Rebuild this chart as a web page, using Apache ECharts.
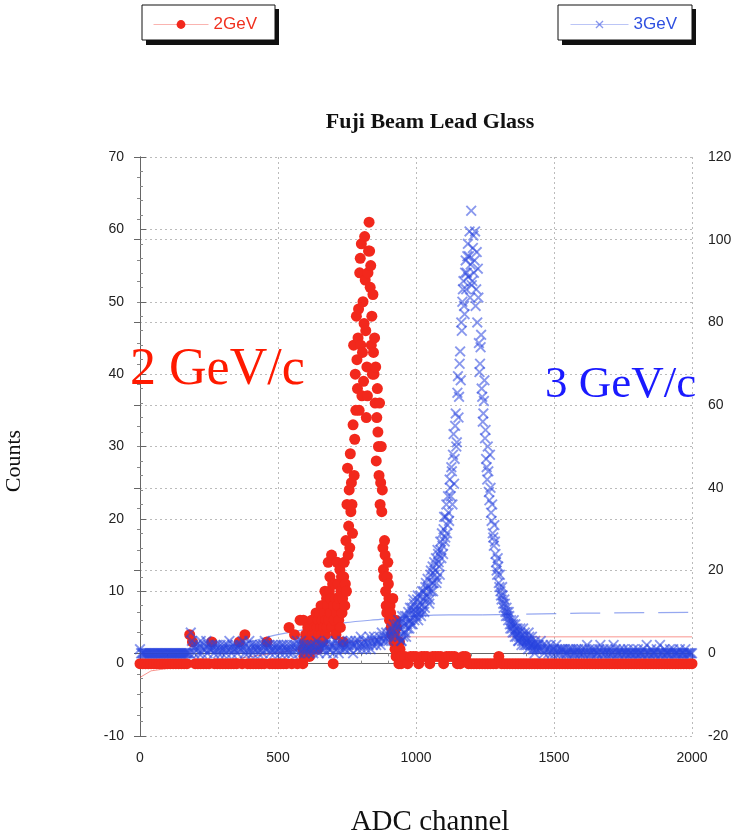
<!DOCTYPE html>
<html>
<head>
<meta charset="utf-8">
<script src="https://cdn.jsdelivr.net/npm/echarts@6/dist/echarts.min.js"></script>
<style>
html,body{margin:0;padding:0;background:#fff;}
#chart{width:741px;height:836px;}
</style>
</head>
<body>
<div id="chart"></div>
<script>
// ---------------- DATA ----------------
const xTicks = [0, 500, 1000, 1500, 2000];
const yLeftTicks = [-10, 0, 10, 20, 30, 40, 50, 60, 70];
const yRightTicks = [-20, 0, 20, 40, 60, 80, 100, 120];

// 2GeV counts (left axis) — low region, channels 0..580, one value per 10 channels
const red2LowStart = 0, red2LowStep = 10;
const red2Low = [
  0,0,0,0,0,0,0,0,0,0, 0,0,0,0,0,0,0,0,
  4,3,0,0,0,0,0,0,3,0, 0,0,0,0,0,0,0,0,
  3,0,4,0,0,0,0,0,0,0, 3,0,0,0,0,0,0,0,
  5,0,4,0,6,0
];
// 2GeV peak region, [channel, counts]
const red2Peak = [
  [590,2],[592,6],[594,1],[596,3],[598,2],[600,4],[602,1],[604,3],[606,2],[608,5],
  [610,2],[612,4],[614,1],[616,3],[618,5],[620,2],[622,6],[624,3],[626,4],[628,6],
  [630,2],[632,5],[634,3],[636,4],[638,7],[640,3],[642,5],[644,2],[646,6],[648,4],
  [650,7],[652,3],[654,5],[656,8],[658,4],[660,6],[662,3],[664,8],[666,5],[668,7],
  [670,10],[672,4],[674,6],[676,9],[678,5],[680,8],[682,14],[684,6],[686,10],[688,12],
  [690,7],[692,9],[694,15],[696,5],[698,11],[700,0],[702,8],[704,6],[706,11],[708,9],
  [710,4],[712,7],[714,14],[716,8],[718,11],[720,6],[722,9],[724,13],[726,5],[728,10],
  [730,12],[732,7],[734,9],[736,3],[738,12],[740,14],[742,8],[744,11],[746,17],[748,10],
  [750,22],[752,27],[754,15],[756,19],[758,24],[760,16],[762,29],[764,21],[766,25],[768,22],
  [770,18],[772,33],[774,44],[776,26],[778,31],[780,40],[782,35],[784,48],[786,42],[788,38],
  [790,45],[792,49],[794,35],[796,54],[798,56],[800,44],[802,58],[804,37],[806,43],[808,50],
  [810,39],[812,47],[814,59],[816,53],[818,46],[820,34],[822,41],[824,37],[826,54],[828,57],
  [830,61],[832,57],[834,52],[836,55],[838,44],[840,48],[842,40],[844,51],[846,43],[848,40],
  [850,45],[852,36],[854,41],[856,28],[858,34],[860,38],[862,32],[864,30],[866,26],[868,36],
  [870,22],[872,25],[874,30],[876,21],[878,24],[880,16],[882,13],[884,12],[886,17],[888,15],
  [890,10],[892,8],[894,7],[896,12],[898,14],[900,11],[902,9],[904,6],[906,8],[908,7],
  [910,5],[912,4],[914,6],[916,9],[918,5],[920,3],[922,4],[924,2],[926,6],[928,1],
  [930,5],[932,2],[934,3],[936,1],[938,0],[940,3],[942,2],[944,1],[946,0]
];
// 2GeV high region, channels 950..2000, one value per 10 channels
const red2HighStart = 950, red2HighStep = 10;
const red2High = [
  1,1,0,1,1,1,0,1,1,1, 0,1,1,1,1,0,1,1,1,1, 0,0,1,1,0,
  0,0,0,0,0,0,0,0,0,0,
  1,
  0,0,0,0,0,0,0,0,0,0, 0,0,0,0,0,0,0,0,0,0, 0,0,0,0,0,0,0,0,0,0,
  0,0,0,0,0,0,0,0,0,0, 0,0,0,0,0,0,0,0,0,0, 0,0,0,0,0,0,0,0,0,0,
  0,0,0,0,0,0,0,0,0,0
];

// 3GeV counts (right axis) — channels 0..936, one value per 4 channels
const blue3LowStart = 0, blue3LowStep = 4;
const blue3Low = [
  1,0,0,0,0,0,0,0,0,0, 0,0,0,0,0,0,0,0,0,0, 0,0,0,0,0,0,0,0,0,0,
  0,0,0,0,0,0,0,0,0,0, 0,0,0,0,0,0,
  5,3,2,0,1,2,1,0,2,3,
  0,1,2,1,3,0,2,1,1,2,
  1,0,2,1,2,0,1,2,0,1,
  2,1,0,2,1,3,1,0,2,1,
  1,2,0,1,2,1,2,3,1,0,
  2,1,0,3,1,2,0,1,2,1,
  2,0,1,2,1,0,2,3,1,2,
  1,2,0,1,2,1,0,2,1,2,
  1,0,2,1,2,0,1,2,1,0,
  2,1,0,2,1,2,3,1,0,2,
  3,1,2,0,1,2,1,0,2,1,
  2,0,1,2,3,1,0,2,1,2,
  2,1,2,0,3,1,2,1,2,0,
  2,3,1,2,0,2,1,3,2,1,
  1,2,3,2,1,3,2,0,2,3,
  2,1,3,2,4,1,2,3,2,1,
  3,2,4,1,3,2,4,3,2,3,
  3,4,2,5,3,4,3,5,4,3,
  5,4,6,5,7,4,6,7,8
];
// 3GeV peak region, channels 940..1440, one value per 4 channels
const blue3PeakStart = 940, blue3PeakStep = 4;
const blue3Peak = [
  4,7,3,8,5,9,4,7,10,6, 8,11,7,12,9,10,13,8,11,14,
  10,12,15,11,17,13,16,12,19,15, 21,17,19,23,18,24,21,27,23,26,
  30,27,33,29,38,32,40,45,36,53, 47,58,51,67,62,73,80,85,90,82,
  95,92,99,96,86,107,90,101,95,84, 97,93,75,70,77,62,58,66,54,45,
  50,39,48,34,36,28,31,24,20,23, 17,19,14,16,12,13,10,11,9,10,
  7,8,6,7,5,7,4,6,3,5, 4,3,6,2,4,3,2,5,3,2,
  4,2,1,3,1,2
];
// 3GeV peak region, interleaved channels 942..1438, one value per 4 channels
const blue3PeakBStart = 942, blue3PeakBStep = 4;
const blue3PeakB = [
  6,3,9,4,7,5,9,6,8,11, 7,10,13,8,11,9,14,10,12,9,
  15,13,10,16,14,18,15,13,20,17, 15,22,20,17,25,22,19,25,29,24,
  33,28,36,31,34,42,38,44,48,41, 55,50,63,57,70,66,78,88,84,92,
  88,96,91,102,94,89,98,92,102,88, 80,86,68,74,64,56,61,52,47,42,
  44,37,40,32,29,26,27,22,19,21, 16,15,13,14,11,12,9,10,8,9,
  6,7,5,8,4,6,5,3,4,6, 2,4,3,5,2,3,1,4,2,3,
  1,2,0,2,1
];
// 3GeV tail, channels 1444..2000, one value per 4 channels
const blue3TailStart = 1444, blue3TailStep = 4;
const blue3Tail = [
  2,1,3,1,2,0,1,2,1,0,
  1,2,0,1,1,0,2,1,0,1,
  0,1,1,0,1,0,0,1,0,1,
  0,1,0,0,1,0,1,0,0,1,
  0,0,1,0,2,0,1,0,0,1,
  0,1,0,0,0,1,2,0,0,1,
  0,0,1,0,0,1,0,0,2,0,
  1,0,0,0,1,0,0,1,0,0,
  0,1,0,0,0,0,1,0,0,0,
  1,0,0,0,0,1,0,0,2,0,
  0,0,1,0,0,0,0,1,0,0,
  2,0,0,0,1,0,0,0,0,1,
  0,0,1,0,0,0,0,0,1,0,
  0,0,0,1,0,0,0,0,0,0
];

// thin guide lines
const red2Line = [[0,-1.9],[40,-1.0],[900,3.7],[2000,3.7]];
const blue3LineSolid = [[300,1.5],[400,2.8],[490,4.4],[610,5.9],[745,7.4],[870,8.2],[1000,9.0],[1120,9.3],[1240,9.3]];
const blue3LineDashed = [[1240,9.3],[1600,9.7],[2000,9.9]];

// ---------------- BUILD ----------------
function fromRuns(start, step, arr) { return arr.map((v, i) => [start + i * step, v]); }
const red2Data = fromRuns(red2LowStart, red2LowStep, red2Low)
  .concat(red2Peak)
  .concat(fromRuns(red2HighStart, red2HighStep, red2High));
const blue3Data = fromRuns(blue3LowStart, blue3LowStep, blue3Low)
  .concat(fromRuns(blue3PeakStart, blue3PeakStep, blue3Peak))
  .concat(fromRuns(blue3PeakBStart, blue3PeakBStep, blue3PeakB))
  .concat(fromRuns(blue3TailStart, blue3TailStep, blue3Tail));

const RED = '#f2281c';
const BLUE_X = 'rgba(40,68,222,0.55)';
const XPATH = 'path://M0,1.2L1.2,0L5,3.8L8.8,0L10,1.2L6.2,5L10,8.8L8.8,10L5,6.2L1.2,10L0,8.8L3.8,5Z';
const SANS = 'Liberation Sans';

const chart = echarts.init(document.getElementById('chart'), null, {renderer: 'canvas'});

const axisCommon = {
  axisLine: {show: true, lineStyle: {color: '#666', width: 1}},
  axisTick: {show: true, inside: true, length: 6, lineStyle: {color: '#666'}},
  minorTick: {show: true, length: 3, lineStyle: {color: '#888'}},
  splitLine: {show: true, lineStyle: {color: '#bbb', type: [2, 3], width: 1}},
  axisLabel: {color: '#222', fontFamily: SANS, fontSize: 14}
};

chart.setOption({
  animation: false,
  backgroundColor: '#fff',
  grid: {left: 140, right: 49, top: 157, bottom: 100, containLabel: false},
  xAxis: [
    Object.assign({}, axisCommon, {
      type: 'value', min: xTicks[0], max: xTicks[xTicks.length - 1], interval: 500, position: 'bottom',
      minorTick: {show: true, splitNumber: 5, length: 3, lineStyle: {color: '#888'}},
      axisLabel: {color: '#222', fontFamily: SANS, fontSize: 14, margin: 15,
        formatter: v => xTicks.includes(v) ? String(v) : ''}
    }),
    {
      type: 'value', min: 0, max: 2000, interval: 500, position: 'top',
      axisLine: {show: true, lineStyle: {color: '#666'}},
      axisTick: {show: true, inside: true, length: 6, lineStyle: {color: '#666'}},
      minorTick: {show: true, splitNumber: 5, length: 3, lineStyle: {color: '#888'}},
      axisLabel: {show: false}, splitLine: {show: false}
    }
  ],
  yAxis: [
    Object.assign({}, axisCommon, {
      type: 'value', min: yLeftTicks[0], max: yLeftTicks[yLeftTicks.length - 1], interval: 10, position: 'left',
      minorTick: {show: true, splitNumber: 5, length: 3, lineStyle: {color: '#888'}},
      axisLabel: {color: '#222', fontFamily: SANS, fontSize: 14, margin: 16}
    }),
    Object.assign({}, axisCommon, {
      type: 'value', min: yRightTicks[0], max: yRightTicks[yRightTicks.length - 1], interval: 20, position: 'right',
      minorTick: {show: true, splitNumber: 4, length: 3, lineStyle: {color: '#888'}},
      axisLabel: {color: '#222', fontFamily: SANS, fontSize: 14, margin: 16}
    })
  ],
  legend: [
    {
      data: [{name: '2GeV', lineStyle: {color: 'rgba(242,40,28,0.35)', width: 1, opacity: 1}}],
      left: 153, top: 16, padding: 0, itemWidth: 55, itemHeight: 11, selectedMode: false,
      textStyle: {color: '#f0301f', fontFamily: SANS, fontSize: 17}
    },
    {
      data: [{name: '3GeV', lineStyle: {color: 'rgba(60,90,230,0.35)', width: 1, opacity: 1}}],
      left: 570, top: 16, padding: 0, itemWidth: 58, itemHeight: 10, selectedMode: false,
      textStyle: {color: '#2f50e0', fontFamily: SANS, fontSize: 17}
    }
  ],
  graphic: [
    {type: 'rect', shape: {x: 146, y: 9, width: 133, height: 36}, style: {fill: '#111'}, z: 0, silent: true},
    {type: 'rect', shape: {x: 142, y: 5, width: 133, height: 35}, style: {fill: '#fff', stroke: '#111', lineWidth: 1}, z: 0, silent: true},
    {type: 'rect', shape: {x: 562, y: 9, width: 134, height: 36}, style: {fill: '#111'}, z: 0, silent: true},
    {type: 'rect', shape: {x: 558, y: 5, width: 134, height: 35}, style: {fill: '#fff', stroke: '#111', lineWidth: 1}, z: 0, silent: true},
    {type: 'text', x: 430, y: 122, z: 10, silent: true,
      style: {text: 'Fuji Beam Lead Glass', fill: '#111', font: 'bold 22px "Liberation Serif"', textAlign: 'center', textVerticalAlign: 'middle'}},
    {type: 'text', x: 14, y: 461, rotation: Math.PI / 2, z: 10, silent: true,
      style: {text: 'Counts', fill: '#111', font: '22px "Liberation Serif"', textAlign: 'center', textVerticalAlign: 'middle'}},
    {type: 'text', x: 430, y: 822, z: 10, silent: true,
      style: {text: 'ADC channel', fill: '#111', font: '29px "Liberation Serif"', textAlign: 'center', textVerticalAlign: 'middle'}},
    {type: 'text', x: 130, y: 370, z: 20, silent: true,
      style: {text: '2 GeV/c', fill: '#ff1a00', font: '52px "Liberation Serif"', textAlign: 'left', textVerticalAlign: 'middle'}},
    {type: 'text', x: 545, y: 385, z: 20, silent: true,
      style: {text: '3 GeV/c', fill: '#1a1aff', font: '45px "Liberation Serif"', textAlign: 'left', textVerticalAlign: 'middle'}}
  ],
  series: [
    {
      type: 'line', xAxisIndex: 0, yAxisIndex: 0, data: red2Line, symbol: 'none', silent: true, z: 1,
      lineStyle: {color: 'rgba(242,60,50,0.55)', width: 1}, emphasis: {disabled: true}
    },
    {
      type: 'line', xAxisIndex: 0, yAxisIndex: 1, data: blue3LineSolid, symbol: 'none', silent: true, z: 1, smooth: 0.3,
      lineStyle: {color: 'rgba(80,110,230,0.6)', width: 1.2}, emphasis: {disabled: true}
    },
    {
      type: 'line', xAxisIndex: 0, yAxisIndex: 1, data: blue3LineDashed, symbol: 'none', silent: true, z: 1,
      lineStyle: {color: 'rgba(80,110,230,0.6)', width: 1.2, type: [30, 14]}, emphasis: {disabled: true}
    },
    {
      name: '2GeV', type: 'line', xAxisIndex: 0, yAxisIndex: 0, data: red2Data,
      symbol: 'circle', symbolSize: 11, showSymbol: true, showAllSymbol: true, clip: false, silent: true, z: 2,
      itemStyle: {color: RED, borderWidth: 0},
      lineStyle: {width: 0, opacity: 0}, emphasis: {disabled: true}
    },
    {
      name: '3GeV', type: 'line', xAxisIndex: 0, yAxisIndex: 1, data: blue3Data,
      symbol: XPATH, symbolSize: 11, showSymbol: true, showAllSymbol: true, clip: false, silent: true, z: 3,
      itemStyle: {color: BLUE_X, borderWidth: 0},
      lineStyle: {width: 0, opacity: 0}, emphasis: {disabled: true}
    }
  ]
});
</script>
</body>
</html>
